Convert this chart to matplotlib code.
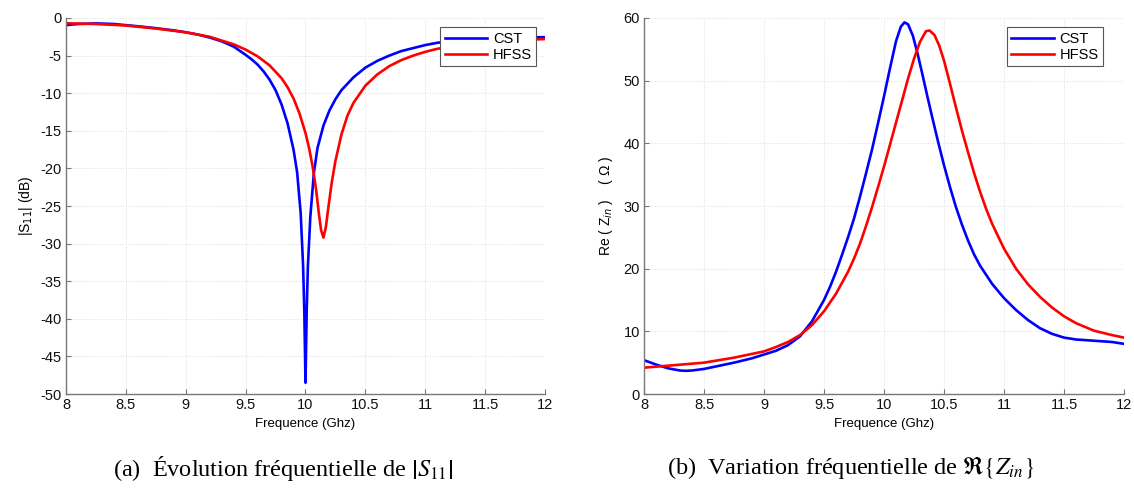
import matplotlib
matplotlib.use("Agg")
import matplotlib.pyplot as plt

plt.rcParams["font.family"] = ["Liberation Sans", "DejaVu Sans"]
plt.rcParams["mathtext.fontset"] = "stix"
plt.rcParams["axes.unicode_minus"] = False

# |S11| (dB) vs frequency (GHz)
s11_cst_f = [8.0, 8.1, 8.25, 8.4, 8.5, 8.6, 8.75, 8.9, 9.0, 9.1, 9.2, 9.3, 9.4, 9.5,
             9.55, 9.6, 9.65, 9.7, 9.75, 9.8, 9.85, 9.9, 9.93, 9.96, 9.98, 9.99,
             10.0, 10.01, 10.02, 10.04, 10.07, 10.1, 10.15, 10.2, 10.25, 10.3,
             10.4, 10.5, 10.6, 10.7, 10.8, 10.9, 11.0, 11.1, 11.25, 11.5, 11.75,
             12.0]
s11_cst = [-0.95, -0.8, -0.72, -0.8, -0.95, -1.1, -1.35, -1.65, -1.9, -2.2, -2.6,
           -3.1, -3.8, -4.9, -5.5, -6.2, -7.1, -8.2, -9.6, -11.5, -14.0, -17.5,
           -20.5, -26.0, -33.0, -39.0, -48.5, -39.0, -33.0, -26.5, -20.6, -17.3,
           -14.3, -12.3, -10.8, -9.6, -7.9, -6.6, -5.7, -5.0, -4.4, -4.0, -3.6,
           -3.3, -3.0, -2.75, -2.6, -2.55]

s11_hfss_f = [8.0, 8.25, 8.5, 8.75, 9.0, 9.1, 9.2, 9.3, 9.4, 9.5, 9.6, 9.7, 9.8,
              9.85, 9.9, 9.95, 10.0, 10.03, 10.06, 10.09, 10.11, 10.13, 10.15,
              10.17, 10.19, 10.22, 10.25, 10.3, 10.35, 10.4, 10.5, 10.6, 10.7,
              10.8, 10.9, 11.0, 11.1, 11.25, 11.5, 11.75, 12.0]
s11_hfss = [-0.7, -0.8, -1.0, -1.4, -1.9, -2.2, -2.5, -3.0, -3.5, -4.2, -5.1, -6.3,
            -8.0, -9.2, -10.7, -12.7, -15.3, -17.3, -19.8, -23.0, -25.8, -28.2,
            -29.2, -27.8, -25.3, -21.8, -19.0, -15.5, -13.0, -11.3, -9.0, -7.5,
            -6.4, -5.6, -5.0, -4.5, -4.1, -3.7, -3.2, -2.95, -2.8]

# Re(Zin) (Ohm) vs frequency (GHz)
z_cst_f = [8.0, 8.1, 8.2, 8.3, 8.35, 8.4, 8.5, 8.6, 8.75, 8.9, 9.0, 9.1, 9.2, 9.3,
           9.4, 9.5, 9.55, 9.6, 9.65, 9.7, 9.75, 9.8, 9.85, 9.9, 9.95, 10.0,
           10.05, 10.1, 10.14, 10.17, 10.2, 10.24, 10.28, 10.32, 10.36, 10.4,
           10.45, 10.5, 10.55, 10.6, 10.65, 10.7, 10.75, 10.8, 10.9, 11.0, 11.1,
           11.2, 11.3, 11.4, 11.5, 11.6, 11.75, 11.9, 12.0]
z_cst = [5.4, 4.7, 4.1, 3.75, 3.7, 3.75, 4.0, 4.4, 5.0, 5.7, 6.3, 6.9, 7.8, 9.2,
         11.6, 15.0, 17.1, 19.5, 22.2, 25.0, 28.0, 31.5, 35.2, 39.0, 43.2, 47.5,
         52.0, 56.3, 58.6, 59.3, 59.0, 57.2, 54.3, 51.0, 47.6, 44.3, 40.3, 36.5,
         33.0, 29.8, 27.0, 24.5, 22.3, 20.5, 17.6, 15.3, 13.4, 11.8, 10.5, 9.6,
         9.0, 8.7, 8.5, 8.3, 8.0]

z_hfss_f = [8.0, 8.25, 8.5, 8.75, 9.0, 9.1, 9.2, 9.3, 9.4, 9.5, 9.6, 9.7, 9.75,
            9.8, 9.85, 9.9, 9.95, 10.0, 10.05, 10.1, 10.15, 10.2, 10.25, 10.3,
            10.35, 10.38, 10.42, 10.46, 10.5, 10.55, 10.6, 10.65, 10.7, 10.75,
            10.8, 10.85, 10.9, 11.0, 11.1, 11.2, 11.3, 11.4, 11.5, 11.6, 11.75,
            11.9, 12.0]
z_hfss = [4.2, 4.6, 5.0, 5.8, 6.8, 7.5, 8.3, 9.4, 11.0, 13.2, 16.0, 19.5, 21.6,
          24.0, 26.8, 29.8, 33.0, 36.3, 39.8, 43.3, 46.8, 50.3, 53.5, 56.2, 57.9,
          58.0, 57.3, 55.6, 53.2, 49.5, 45.7, 42.0, 38.6, 35.3, 32.3, 29.6, 27.2,
          23.2, 20.0, 17.5, 15.5, 13.8, 12.4, 11.3, 10.1, 9.4, 9.0]

xticks = [8, 8.5, 9, 9.5, 10, 10.5, 11, 11.5, 12]
xticklabels = ["8", "8.5", "9", "9.5", "10", "10.5", "11", "11.5", "12"]

fig = plt.figure(figsize=(11.34, 4.93), dpi=100)
ax1 = fig.add_axes([0.0582, 0.2008, 0.4224, 0.7627])
ax2 = fig.add_axes([0.5679, 0.2008, 0.4233, 0.7627])


def style_axes(ax, legend_x):
    ax.set_xlim(8, 12)
    ax.set_xticks(xticks)
    ax.set_xticklabels(xticklabels)
    ax.grid(True, color="#dddddd", linewidth=0.7, linestyle=":")
    ax.set_axisbelow(True)
    for side in ["top", "right"]:
        ax.spines[side].set_visible(False)
    for side in ["left", "bottom"]:
        ax.spines[side].set_color("#777777")
        ax.spines[side].set_linewidth(1.0)
    ax.tick_params(direction="in", length=3.5, labelsize=10.5,
                   colors="#777777", labelcolor="#111111", pad=3)
    ax.set_xlabel("Frequence (Ghz)", fontsize=9.5, labelpad=4)
    leg = ax.legend(loc="upper right", bbox_to_anchor=(legend_x, 0.975),
                    fontsize=10.5, fancybox=False, handlelength=2.9,
                    borderpad=0.3, labelspacing=0.15, handletextpad=0.4,
                    borderaxespad=0.0)
    leg.get_frame().set_edgecolor("#555555")
    leg.get_frame().set_linewidth(0.8)
    leg.get_frame().set_alpha(1.0)


ax1.plot(s11_cst_f, s11_cst, color="#0000ff", lw=1.9, label="CST")
ax1.plot(s11_hfss_f, s11_hfss, color="#ff0000", lw=1.9, label="HFSS")
ax1.set_ylim(-50, 0)
ax1.set_yticks(range(-50, 1, 5))
ax1.set_ylabel("|S$_{11}$| (dB)", fontsize=10, labelpad=4,
               math_fontfamily="dejavusans")
style_axes(ax1, 0.982)

ax2.plot(z_cst_f, z_cst, color="#0000ff", lw=1.9, label="CST")
ax2.plot(z_hfss_f, z_hfss, color="#ff0000", lw=1.9, label="HFSS")
ax2.set_ylim(0, 60)
ax2.set_yticks(range(0, 61, 10))
ax2.set_ylabel("Re ( Z$_{in}$ )    ( Ω )", fontsize=10, labelpad=6,
               math_fontfamily="dejavusans")
style_axes(ax2, 0.956)

fig.text(0.25, 0.05, r"(a)  Évolution fréquentielle de $\left|S_{11}\right|$",
         ha="center", va="center", fontsize=17.5, family="Liberation Serif")
fig.text(0.75, 0.05, r"(b)  Variation fréquentielle de $\Re\left\{Z_{in}\right\}$",
         ha="center", va="center", fontsize=17.5, family="Liberation Serif")

fig.savefig("out.png", dpi=100)
